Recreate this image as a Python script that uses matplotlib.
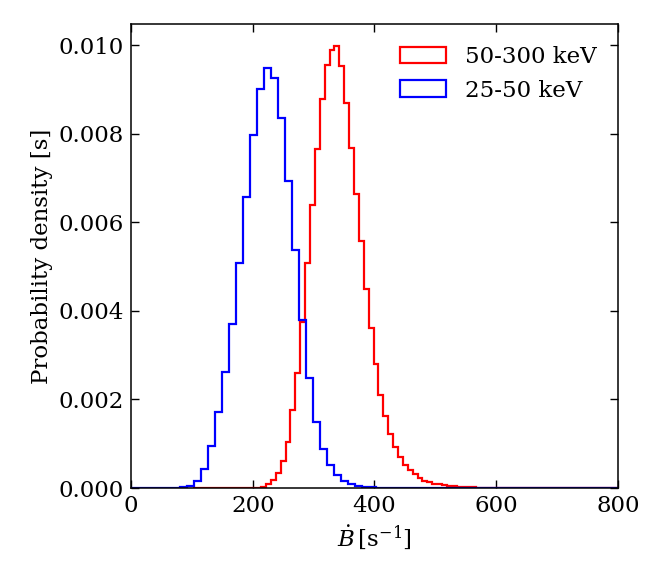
import numpy as np
import matplotlib
matplotlib.use("Agg")
import matplotlib.pyplot as plt

plt.rcParams['font.family'] = ['DejaVu Serif']
plt.rcParams['mathtext.fontset'] = 'dejavuserif'

# ---- data ----
labels = ["50-300 keV", "25-50 keV"]
colors = ["red", "blue"]

# red: 50-300 keV
red_start = 101.4
red_width = 8.03
red_heights = [0.0] * 13 + [
    0.00001, 0.00003, 0.00009, 0.00018, 0.00034, 0.00061, 0.00104, 0.00176,
    0.00259, 0.00375, 0.00507, 0.00638, 0.00765, 0.00879, 0.00956, 0.00989,
    0.00997, 0.00952, 0.00870, 0.00767, 0.00664, 0.00557, 0.00450, 0.00361,
    0.00281, 0.00210, 0.00162, 0.00123, 0.00092, 0.00070, 0.00052, 0.00041,
    0.00031, 0.00023, 0.000165, 0.00013, 0.00010, 0.00008, 0.00006, 0.00005,
    0.00004, 0.00003, 0.000025, 0.00002, 0.000015, 0.000012, 0.00001,
    0.000008, 0.000006, 0.000005, 0.000004, 0.000003, 0.000002, 0.000002,
    0.000001, 0.000001, 0.000001,
] + [0.0] * 28

# blue: 25-50 keV
blue_start = -0.9
blue_width = 11.51
blue_heights = [
    0.0, 0.0, 0.0, 0.0, 0.000003, 0.000006, 0.00001, 0.00002, 0.00005,
    0.000165, 0.000428, 0.000954, 0.00171, 0.00262, 0.00371, 0.00507,
    0.00657, 0.00798, 0.00900, 0.00948, 0.00926, 0.00835, 0.00694, 0.00537,
    0.00379, 0.00249, 0.00150, 0.00089, 0.00052, 0.00030, 0.000165, 0.00009,
    0.000045, 0.00003, 0.000015, 0.000008, 0.000004, 0.000002, 0.000001,
] + [0.0] * 32

series = [
    (red_start, red_width, red_heights),
    (blue_start, blue_width, blue_heights),
]

fs = 16.5

fig = plt.figure(figsize=(6.64, 5.81), dpi=100)
ax = fig.add_axes([0.1973, 0.16, 0.7334, 0.7982])

for (start, width, heights), lab, col in zip(series, labels, colors):
    n = len(heights)
    edges = start + width * np.arange(n + 1)
    centers = 0.5 * (edges[:-1] + edges[1:])
    ax.hist(centers, bins=edges, weights=heights, histtype='step',
            color=col, linewidth=1.6, label=lab)

ax.set_xlim(0, 800)
ax.set_xticks([0, 200, 400, 600, 800])
ax.set_yticks([0.0, 0.002, 0.004, 0.006, 0.008, 0.010])
ax.tick_params(direction='in', top=True, right=True, labelsize=fs,
               length=5.5, width=1.0, pad=5)
for sp in ax.spines.values():
    sp.set_linewidth(1.1)
ax.set_xlabel(r'$\dot{B}\,[\mathrm{s}^{-1}]$', fontsize=fs)
ax.set_ylabel('Probability density [s]', fontsize=fs)
ax.legend(loc='upper right', frameon=False, fontsize=fs,
          borderaxespad=0.55, handlelength=2.0)

fig.savefig('out.png', dpi=100)
